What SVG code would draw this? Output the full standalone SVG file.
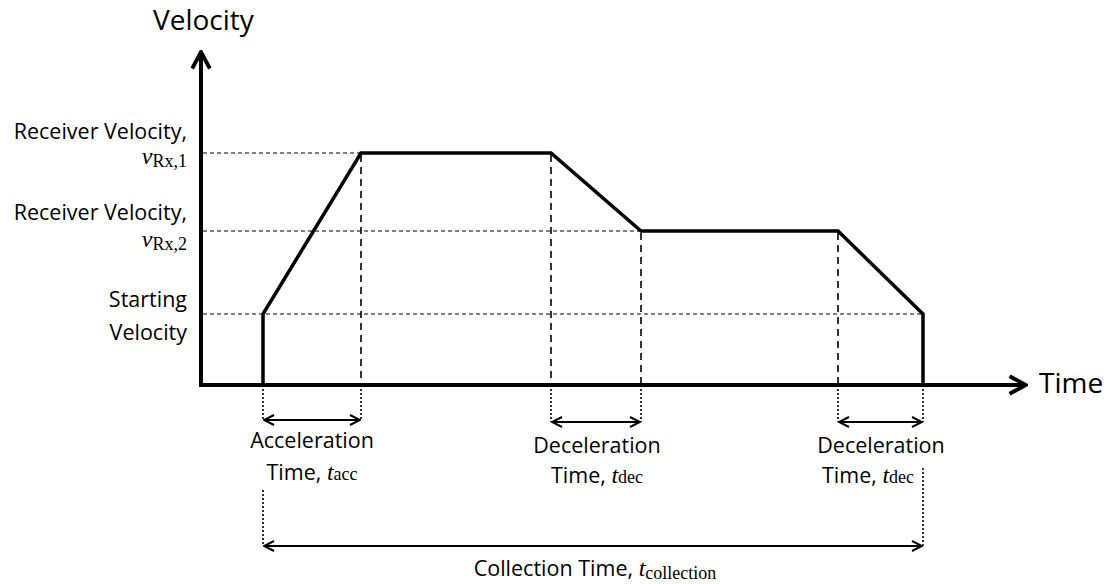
<svg xmlns="http://www.w3.org/2000/svg" width="1110" height="584" viewBox="0 0 1110 584">
<style>
.t{font-family:"Open Sans","Liberation Sans",Arial,sans-serif;font-size:21.5px;fill:#000}
.big{font-size:28px}
.m{font-family:"Liberation Serif","Times New Roman",serif;font-style:italic;font-size:24px}
.s{font-family:"Liberation Serif","Times New Roman",serif;font-style:normal;font-size:18px}
.ax{stroke:#000;stroke-width:4;fill:none}
.prof{stroke:#000;stroke-width:3.5;fill:none;stroke-linejoin:miter}
.hd{stroke:#000;stroke-width:1;stroke-dasharray:4 3;fill:none}
.vd{stroke:#000;stroke-width:1.6;stroke-dasharray:7 5;fill:none}
.dot{stroke:#000;stroke-width:1.6;stroke-dasharray:2 2;fill:none}
.arr{stroke:#000;stroke-width:2;fill:none;marker-start:url(#ah);marker-end:url(#ah)}
</style>
<defs>
<marker id="ah" viewBox="0 0 12 12" refX="11" refY="6" markerWidth="12" markerHeight="12" markerUnits="userSpaceOnUse" orient="auto-start-reverse">
<path d="M1,1 L11,6 L1,11" fill="none" stroke="#000" stroke-width="2"/>
</marker>
<marker id="axh" viewBox="0 0 20 20" refX="18" refY="10" markerWidth="22" markerHeight="22" markerUnits="userSpaceOnUse" orient="auto">
<path d="M3,2 L18,10 L3,18" fill="none" stroke="#000" stroke-width="3.5"/>
</marker>
</defs>
<g id="axes">
<line class="ax" x1="201" y1="387" x2="201" y2="52" marker-end="url(#axh)"/>
<line class="ax" x1="199" y1="385" x2="1026" y2="385" marker-end="url(#axh)"/>
<text class="t big" x="153" y="30">Velocity</text>
<text class="t big" x="1039" y="393">Time</text>
</g>
<g id="guides">
<line class="hd" x1="203" y1="153" x2="361" y2="153"/>
<line class="hd" x1="203" y1="231" x2="641" y2="231"/>
<line class="hd" x1="203" y1="314" x2="923" y2="314"/>
<line class="vd" x1="361" y1="155" x2="361" y2="383"/>
<line class="vd" x1="551" y1="155" x2="551" y2="383"/>
<line class="vd" x1="641" y1="233" x2="641" y2="383"/>
<line class="vd" x1="838" y1="233" x2="838" y2="383"/>
</g>
<g id="profile">
<polyline class="prof" points="263,385 263,314 361,153 551,153 641,231 838,231 923,314 923,385"/>
</g>
<g id="connectors">
<line class="dot" x1="263" y1="389" x2="263" y2="420"/>
<line class="dot" x1="263" y1="490" x2="263" y2="546"/>
<line class="dot" x1="361" y1="389" x2="361" y2="420"/>
<line class="dot" x1="551" y1="389" x2="551" y2="422"/>
<line class="dot" x1="641" y1="389" x2="641" y2="422"/>
<line class="dot" x1="838" y1="389" x2="838" y2="422"/>
<line class="dot" x1="923" y1="389" x2="923" y2="422"/>
<line class="dot" x1="923" y1="468" x2="923" y2="546"/>
<line class="arr" x1="264" y1="420" x2="360" y2="420"/>
<line class="arr" x1="552" y1="422" x2="640" y2="422"/>
<line class="arr" x1="839" y1="422" x2="922" y2="422"/>
<line class="arr" x1="264" y1="546" x2="922" y2="546"/>
</g>
<g id="left-labels">
<text class="t" x="187" y="139" text-anchor="end">Receiver Velocity,</text>
<text class="t" x="187" y="164" text-anchor="end"><tspan class="m">v</tspan><tspan class="s" dy="3">Rx,1</tspan></text>
<text class="t" x="187" y="220" text-anchor="end">Receiver Velocity,</text>
<text class="t" x="187" y="247" text-anchor="end"><tspan class="m">v</tspan><tspan class="s" dy="3">Rx,2</tspan></text>
<text class="t" x="187" y="307" text-anchor="end">Starting</text>
<text class="t" x="187" y="340" text-anchor="end">Velocity</text>
</g>
<g id="acc-label">
<text class="t" x="312" y="448" text-anchor="middle">Acceleration</text>
<text class="t" x="312" y="480" text-anchor="middle">Time, <tspan class="m">t</tspan><tspan class="s">acc</tspan></text>
</g>
<g id="dec1-label">
<text class="t" x="597" y="453" text-anchor="middle">Deceleration</text>
<text class="t" x="597" y="483" text-anchor="middle">Time, <tspan class="m">t</tspan><tspan class="s">dec</tspan></text>
</g>
<g id="dec2-label">
<text class="t" x="881" y="453" text-anchor="middle">Deceleration</text>
<text class="t" x="868" y="483" text-anchor="middle">Time, <tspan class="m">t</tspan><tspan class="s">dec</tspan></text>
</g>
<g id="collection-label">
<text class="t" x="595" y="576" text-anchor="middle">Collection Time, <tspan class="m">t</tspan><tspan class="s" font-family="Open Sans, sans-serif" dy="3">collection</tspan></text>
</g>
</svg>
